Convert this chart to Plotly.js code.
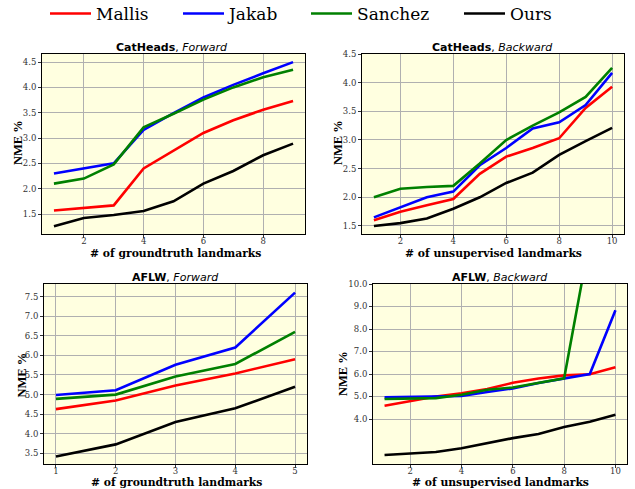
<!DOCTYPE html>
<html>
<head>
<meta charset="utf-8">
<script src="https://cdn.plot.ly/plotly-3.0.1.min.js"></script>
<style>html,body{margin:0;padding:0;background:#fff}#chart{width:635px;height:489px}</style>
</head>
<body>
<div id="chart"></div>
<script>
const methods = ["Mallis", "Jakab", "Sanchez", "Ours"];
const methodColors = ["#ff0000", "#0000ff", "#008000", "#000000"];

const xCatFwd = [1, 2, 3, 4, 5, 6, 7, 8, 9];
const catFwdMallis  = [1.57, 1.62, 1.67, 2.40, 2.75, 3.10, 3.35, 3.56, 3.73];
const catFwdJakab   = [2.30, 2.40, 2.50, 3.16, 3.49, 3.80, 4.05, 4.28, 4.50];
const catFwdSanchez = [2.10, 2.20, 2.48, 3.21, 3.48, 3.76, 4.00, 4.20, 4.35];
const catFwdOurs    = [1.26, 1.42, 1.48, 1.56, 1.75, 2.10, 2.35, 2.66, 2.89];

const xCatBwd = [1, 2, 3, 4, 5, 6, 7, 8, 9, 10];
const catBwdMallis  = [1.60, 1.75, 1.86, 1.97, 2.41, 2.71, 2.86, 3.03, 3.56, 3.93];
const catBwdJakab   = [1.65, 1.83, 2.00, 2.10, 2.56, 2.86, 3.20, 3.31, 3.61, 4.17];
const catBwdSanchez = [2.00, 2.15, 2.18, 2.20, 2.59, 3.00, 3.25, 3.48, 3.75, 4.26];
const catBwdOurs    = [1.50, 1.55, 1.63, 1.80, 2.00, 2.25, 2.43, 2.74, 2.98, 3.21];

const xAflwFwd = [1, 2, 3, 4, 5];
const aflwFwdMallis  = [4.63, 4.85, 5.23, 5.54, 5.90];
const aflwFwdJakab   = [4.99, 5.11, 5.76, 6.20, 7.60];
const aflwFwdSanchez = [4.89, 5.00, 5.46, 5.78, 6.60];
const aflwFwdOurs    = [3.42, 3.73, 4.30, 4.65, 5.20];

const xAflwBwd = [1, 2, 3, 4, 5, 6, 7, 8, 9, 10];
const aflwBwdMallis  = [4.59, 4.80, 5.00, 5.14, 5.33, 5.61, 5.80, 5.94, 5.99, 6.30];
const aflwBwdJakab   = [4.96, 4.99, 5.00, 5.02, 5.20, 5.36, 5.60, 5.81, 6.00, 8.83];
const aflwBwdSanchez = [4.89, 4.90, 4.93, 5.08, 5.30, 5.40, 5.60, 5.81, 12.0, 14.0];
const aflwBwdOurs    = [2.40, 2.47, 2.53, 2.70, 2.93, 3.15, 3.33, 3.64, 3.88, 4.19];

const xTicksCatFwd = [2, 4, 6, 8];
const xTicksBwd = [2, 4, 6, 8, 10];
const xTicksAflwFwd = [1, 2, 3, 4, 5];
const yTicksCat = [1.5, 2.0, 2.5, 3.0, 3.5, 4.0, 4.5];
const yTicksAflwFwd = [3.5, 4.0, 4.5, 5.0, 5.5, 6.0, 6.5, 7.0, 7.5];
const yTicksAflwBwd = [4.0, 5.0, 6.0, 7.0, 8.0, 9.0, 10.0];

const panels = [
  {x: xCatFwd, ys: [catFwdMallis, catFwdJakab, catFwdSanchez, catFwdOurs], ax: ""},
  {x: xCatBwd, ys: [catBwdMallis, catBwdJakab, catBwdSanchez, catBwdOurs], ax: "2"},
  {x: xAflwFwd, ys: [aflwFwdMallis, aflwFwdJakab, aflwFwdSanchez, aflwFwdOurs], ax: "3"},
  {x: xAflwBwd, ys: [aflwBwdMallis, aflwBwdJakab, aflwBwdSanchez, aflwBwdOurs], ax: "4"}
];
const legendIds = ["legend", "legend2", "legend3", "legend4"];

const traces = [];
panels.forEach((p, pi) => {
  p.ys.forEach((y, mi) => {
    traces.push({
      type: "scatter", mode: "lines",
      x: p.x, y: y,
      name: methods[mi],
      legend: legendIds[mi],
      legendgroup: methods[mi],
      showlegend: pi === 0,
      line: {color: methodColors[mi], width: 2.6},
      xaxis: "x" + p.ax, yaxis: "y" + p.ax,
      hoverinfo: "x+y+name"
    });
  });
});

const W = 635, H = 489;
const tickFont = {family: "DejaVu Serif", size: 8.5, color: "#333"};
function xax(l, r, range, ticks) {
  return {
    domain: [l / W, r / W], range: range, tickvals: ticks, ticktext: ticks.map(String),
    showgrid: true, gridcolor: "#b0b0b0", gridwidth: 1, zeroline: false,
    showline: true, mirror: true, linecolor: "#000", linewidth: 1,
    ticks: "outside", ticklen: 3, tickcolor: "#333", tickfont: tickFont,
    ticklabelstandoff: -4,
    automargin: false, fixedrange: true
  };
}
function yax(top, bot, range, ticks, anchor) {
  return {
    domain: [(H - bot) / H, (H - top) / H], range: range, tickvals: ticks,
    ticktext: ticks.map(v => v.toFixed(1)), anchor: anchor,
    showgrid: true, gridcolor: "#b0b0b0", gridwidth: 1, zeroline: false,
    showline: true, mirror: true, linecolor: "#000", linewidth: 1,
    ticks: "outside", ticklen: 3, tickcolor: "#333", tickfont: tickFont,
    automargin: false, fixedrange: true
  };
}

const titleFont = {family: "DejaVu Sans", size: 11, color: "#000"};
const axTitleFont = {family: "DejaVu Serif", size: 10.8, color: "#000"};
const yTitleFont = {family: "Liberation Serif", size: 12.5, color: "#000"};
function ann(text, x, y, font, extra) {
  return Object.assign({text: text, x: x / W, y: 1 - y / H, xref: "paper", yref: "paper",
    showarrow: false, font: font, xanchor: "center", yanchor: "middle"}, extra || {});
}
// legend line start positions (px) for each method
const legendStarts = [47, 180, 308, 461];
function leg(px) {
  return {
    orientation: "h", x: (px - 2) / W, y: 1 - 14 / H, xref: "container", yref: "container",
    xanchor: "left", yanchor: "middle",
    font: {family: "DejaVu Serif", size: 17, color: "#000"},
    bgcolor: "rgba(0,0,0,0)", itemwidth: 41
  };
}

const layout = {
  width: W, height: H,
  margin: {l: 0, r: 0, t: 0, b: 0, autoexpand: false},
  paper_bgcolor: "#ffffff",
  plot_bgcolor: "#ffffe0",
  showlegend: true,
  legend: leg(legendStarts[0]),
  legend2: leg(legendStarts[1]),
  legend3: leg(legendStarts[2]),
  legend4: leg(legendStarts[3]),
  xaxis:  Object.assign(xax(42, 305, [0.6, 9.4], xTicksCatFwd), {anchor: "y"}),
  yaxis:  yax(54, 234, [1.105, 4.66], yTicksCat, "x"),
  xaxis2: Object.assign(xax(362, 624, [0.55, 10.45], xTicksBwd), {anchor: "y2"}),
  yaxis2: yax(54, 234, [1.36, 4.5], yTicksCat, "x2"),
  xaxis3: Object.assign(xax(44, 307, [0.8, 5.2], xTicksAflwFwd), {anchor: "y3"}),
  yaxis3: yax(284, 464, [3.23, 7.82], yTicksAflwFwd, "x3"),
  xaxis4: Object.assign(xax(373, 627, [0.55, 10.45], xTicksBwd), {anchor: "y4"}),
  yaxis4: yax(284, 464, [2.0, 10.0], yTicksAflwBwd, "x4"),
  annotations: [
    ann("<b>CatHeads</b>, <i>Forward</i>", 172, 47, titleFont),
    ann("<b>CatHeads</b>, <i>Backward</i>", 492, 47, titleFont),
    ann("<b>AFLW</b>, <i>Forward</i>", 175, 277, titleFont),
    ann("<b>AFLW</b>, <i>Backward</i>", 500, 277, titleFont),
    ann("<b># of groundtruth landmarks</b>", 175, 253, axTitleFont),
    ann("<b># of unsupervised landmarks</b>", 493, 253, axTitleFont),
    ann("<b># of groundtruth landmarks</b>", 176, 482, axTitleFont),
    ann("<b># of unsupervised landmarks</b>", 500, 482, axTitleFont),
    ann("<b>NME %</b>", 18, 143, yTitleFont, {textangle: -90}),
    ann("<b>NME %</b>", 338, 143, yTitleFont, {textangle: -90}),
    ann("<b>NME %</b>", 21.5, 375, yTitleFont, {textangle: -90}),
    ann("<b>NME %</b>", 343, 373, yTitleFont, {textangle: -90})
  ]
};

Plotly.newPlot("chart", traces, layout, {displayModeBar: false, staticPlot: true});
</script>
</body>
</html>
